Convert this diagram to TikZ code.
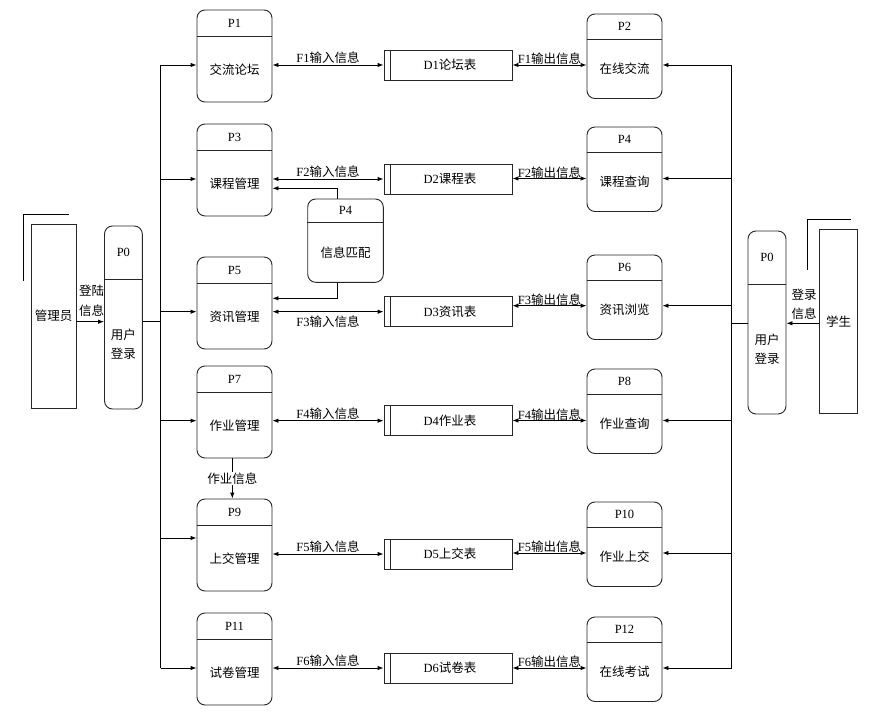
\documentclass[tikz,border=0pt]{standalone}
\usepackage{fontspec}
\setmainfont{Liberation Serif}
\newfontfamily\cjk{Noto Sans CJK SC}
\usetikzlibrary{arrows.meta,calc}
\newcommand\mkproc[8]{%
  \node[procbox, minimum width=#4pt, minimum height=#5pt] (#1) at (#2, #3+#5/2) {};
  \draw[boxline] ($(#1.north west)+(0,#6)$) -- ($(#1.north east)+(0,#6)$);
  \node[txt] (#1t) at ($(#1.north)+(0,#6/2)$) {#7};
  \node[zh] (#1b) at ($(#1.center)+(0,#6/2)$) {#8};
}
\newcommand\mkstore[3]{%
  \node[storebox] (#1) at (448,#2) {};
  \draw[boxline] ($(#1.north west)+(7,0)$) -- ($(#1.south west)+(7,0)$);
  \node[txt] (#1t) at ($(#1.center)+(2,0)$) {#3};
}
\begin{document}
\begin{tikzpicture}[x=1pt,y=-1pt,
  line width=0.9pt,
  txt/.style={font=\fontsize{12.5}{19}\selectfont, inner sep=1pt},
  zh/.style={font=\fontsize{12.5}{19}\selectfont\cjk, align=center, inner sep=1pt},
  arr/.style={-{Latex[length=6pt,width=4.5pt]}},
  barr/.style={{Latex[length=6pt,width=4.5pt]}-{Latex[length=6pt,width=4.5pt]}},
  boxline/.style={draw=black!85},
  procbox/.style={draw=black!85, rounded corners=8pt, inner sep=0pt},
  storebox/.style={draw=black!85, minimum width=128pt, minimum height=30pt, inner sep=0pt},
  entbox/.style={draw=black!85, inner sep=0pt},
  lbl/.style={font=\fontsize{12.5}{19}\selectfont, inner sep=1pt}
]
\useasboundingbox (0,0) rectangle (879,725);

% external entities
\node[entbox, minimum width=45pt, minimum height=184pt] (admin) at (53.5,316) {};
\node[zh] (admint) at (admin.center) {管理员};
\draw (23,281) -- (23,214) -- (69,214);
\node[entbox, minimum width=38.4pt, minimum height=184pt] (stu) at (838.5,321.3) {};
\node[zh] (stut) at (stu.center) {学生};
\draw (807.3,270) -- (807.3,219) -- (851,219);

% login processes
\mkproc{P0L}{123.4}{226}{37.8}{183}{54}{P0}{用户\\登录}
\mkproc{P0R}{767}{231}{38}{183}{54}{P0}{用户\\登录}

% left processes
\mkproc{P1}{234.5}{10}{75}{92}{27}{P1}{交流论坛}
\mkproc{P3}{234.5}{124}{75}{92}{27}{P3}{课程管理}
\mkproc{P5}{234.5}{257}{75}{92}{27}{P5}{资讯管理}
\mkproc{P7}{234.5}{366}{75}{92}{27}{P7}{作业管理}
\mkproc{P9}{234.5}{499}{75}{92}{27}{P9}{上交管理}
\mkproc{P11}{234.5}{613}{75}{92}{27}{P11}{试卷管理}

% right processes
\mkproc{P2}{624.5}{14}{75}{84.5}{25.5}{P2}{在线交流}
\mkproc{P4}{624.5}{127}{75}{84.5}{25.5}{P4}{课程查询}
\mkproc{P6}{624.5}{255}{75}{84.5}{25.5}{P6}{资讯浏览}
\mkproc{P8}{624.5}{369}{75}{84.5}{25.5}{P8}{作业查询}
\mkproc{P10}{624.5}{502}{75}{84.5}{25.5}{P10}{作业上交}
\mkproc{P12}{624.5}{617}{75}{84.5}{25.5}{P12}{在线考试}

% matching process
\mkproc{PM}{345.5}{199}{75.6}{83.3}{23.7}{P4}{信息匹配}

% data stores
\mkstore{D1}{65}{D1{\cjk 论坛表}}
\mkstore{D2}{179}{D2{\cjk 课程表}}
\mkstore{D3}{311.7}{D3{\cjk 资讯表}}
\mkstore{D4}{420.7}{D4{\cjk 作业表}}
\mkstore{D5}{554}{D5{\cjk 上交表}}
\mkstore{D6}{668}{D6{\cjk 试卷表}}

% login flows
\coordinate (la) at (0,321.7);
\draw[arr] (admin.east |- la) -- (P0L.west |- la);
\node[zh, align=center, font=\fontsize{12.5}{20}\selectfont\cjk] (la-t) at (91.5,301) {登陆\\信息};
\coordinate (ls) at (0,323.3);
\draw[arr] (stu.west |- ls) -- (P0R.east |- ls);
\node[zh, align=center, font=\fontsize{12.5}{19}\selectfont\cjk] (ls-t) at (804,304) {登录\\信息};

% left trunk
\coordinate (lt0) at (160.7,321);
\coordinate (lt1) at (160.7,65);
\coordinate (lt2) at (160.7,179);
\coordinate (lt3) at (160.7,311.7);
\coordinate (lt4) at (160.7,420.7);
\coordinate (lt5) at (160.7,538);
\coordinate (lt6) at (160.7,668);
\draw (P0L.east |- lt0) -- (lt0);
\draw (lt1) -- (lt6);
\foreach \c/\p in {lt1/P1,lt2/P3,lt3/P5,lt4/P7,lt5/P9,lt6/P11}
  \draw[arr] (\c) -- (\c -| \p.west);

% right trunk
\coordinate (rt0) at (731.7,323.3);
\coordinate (rt1) at (731.7,65);
\coordinate (rt2) at (731.7,178.5);
\coordinate (rt3) at (731.7,305.7);
\coordinate (rt4) at (731.7,420.5);
\coordinate (rt5) at (731.7,553);
\coordinate (rt6) at (731.7,668);
\draw (P0R.west |- rt0) -- (rt0);
\draw (rt1) -- (rt6);
\foreach \c/\p in {rt1/P2,rt2/P4,rt3/P6,rt4/P8,rt5/P10,rt6/P12}
  \draw[arr] (\c) -- (\c -| \p.east);

% process <-> store flows (input side)
\draw[barr] (P1.east |- D1) -- (D1.west) node[midway, above, lbl] (f1i) {F1{\cjk 输入信息}};
\draw[barr] (P3.east |- D2) -- (D2.west) node[midway, above, lbl] (f2i) {F2{\cjk 输入信息}};
\draw[barr] (P5.east |- D3) -- (D3.west) node[midway, below=3pt, lbl] (f3i) {F3{\cjk 输入信息}};
\draw[barr] (P7.east |- D4) -- (D4.west) node[midway, above, lbl] (f4i) {F4{\cjk 输入信息}};
\draw[barr] (P9.east |- D5) -- (D5.west) node[midway, above, lbl] (f5i) {F5{\cjk 输入信息}};
\draw[barr] (P11.east |- D6) -- (D6.west) node[midway, above, lbl] (f6i) {F6{\cjk 输入信息}};

% store <-> process flows (output side)
\draw[barr] (D1.east |- rt1) -- (P2.west |- rt1) node[midway, above, lbl, inner sep=0pt] (f1o) {F1{\cjk 输出信息}};
\draw[barr] (D2.east |- rt2) -- (P4.west |- rt2) node[midway, above, lbl, inner sep=0pt] (f2o) {F2{\cjk 输出信息}};
\draw[barr] (D3.east |- rt3) -- (P6.west |- rt3) node[midway, above, lbl, inner sep=0pt] (f3o) {F3{\cjk 输出信息}};
\draw[barr] (D4.east |- rt4) -- (P8.west |- rt4) node[midway, above, lbl, inner sep=0pt] (f4o) {F4{\cjk 输出信息}};
\draw[barr] (D5.east |- rt5) -- (P10.west |- rt5) node[midway, above, lbl, inner sep=0pt] (f5o) {F5{\cjk 输出信息}};
\draw[barr] (D6.east |- rt6) -- (P12.west |- rt6) node[midway, above, lbl, inner sep=0pt] (f6o) {F6{\cjk 输出信息}};

% matching process flows
\coordinate (m1) at (337.7,188.3);
\draw[arr] (m1 |- PM.north) -- (m1) -- (m1 -| P3.east);
\coordinate (m2) at (337.7,298.3);
\draw[arr] (m2 |- PM.south) -- (m2) -- (m2 -| P5.east);

% homework flow
\coordinate (hw) at (232.3,0);
\draw[arr] (hw |- P7.south) -- (hw |- P9.north) node[midway, fill=white, zh] (hwt) {作业信息};
\end{tikzpicture}
\end{document}
